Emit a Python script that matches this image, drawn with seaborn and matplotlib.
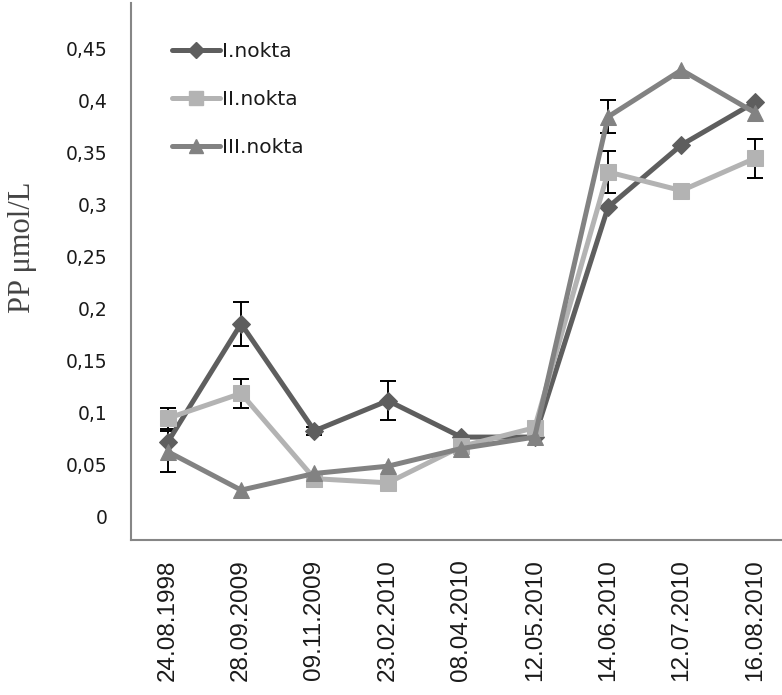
import numpy as np
import pandas as pd
import matplotlib
matplotlib.use("Agg")
import matplotlib.pyplot as plt
import seaborn as sns
from matplotlib.lines import Line2D
from matplotlib.ticker import FixedLocator, FuncFormatter

dates = ["24.08.1998", "28.09.2009", "09.11.2009", "23.02.2010", "08.04.2010",
         "12.05.2010", "14.06.2010", "12.07.2010", "16.08.2010"]
series_names = ["I.nokta", "II.nokta", "III.nokta"]
nokta1 = [0.071, 0.185, 0.082, 0.111, 0.076, 0.076, 0.297, 0.357, 0.398]
nokta2 = [0.094, 0.118, 0.036, 0.032, 0.067, 0.085, 0.331, 0.313, 0.344]
nokta3 = [0.062, 0.025, 0.041, 0.048, 0.065, 0.076, 0.384, 0.429, 0.388]
err1 = [0.0, 0.021, 0.004, 0.019, 0.0, 0.0, 0.0, 0.0, 0.0]
err2 = [0.010, 0.014, 0.0, 0.0, 0.0, 0.0, 0.020, 0.0, 0.019]
err3 = [0.020, 0.0, 0.0, 0.0, 0.0, 0.0, 0.016, 0.0, 0.0]
yticks = [0, 0.05, 0.1, 0.15, 0.2, 0.25, 0.3, 0.35, 0.4, 0.45]

colors = {"I.nokta": "#5e5e5e", "II.nokta": "#b3b3b3", "III.nokta": "#828282"}
markers = {"I.nokta": "D", "II.nokta": "s", "III.nokta": "^"}
msizes = {"I.nokta": 9, "II.nokta": 12, "III.nokta": 12}

vals = [nokta1, nokta2, nokta3]
errs = [err1, err2, err3]
rows = []
for name, v in zip(series_names, vals):
    for i, (d, y) in enumerate(zip(dates, v)):
        rows.append({"pos": i, "date": d, "value": y, "series": name})
df = pd.DataFrame(rows)

sns.set_style("white")
fig = plt.figure(figsize=(7.82, 6.95), dpi=100)
ax = fig.add_axes([0.1675, 0.223, 0.8325, 0.772])

for name, v, e in zip(series_names, vals, errs):
    x = np.arange(len(dates))
    mask = np.array(e) > 0
    ax.errorbar(x[mask], np.array(v)[mask], yerr=np.array(e)[mask], fmt="none",
                ecolor="black", elinewidth=1.4, capsize=6, capthick=1.4, zorder=1)
    sub = df[df["series"] == name]
    sns.lineplot(data=sub, x="pos", y="value", ax=ax, color=colors[name],
                 marker=markers[name], markersize=msizes[name], linewidth=3.6,
                 markeredgecolor=colors[name], zorder=2, legend=False)

ax.set_xlim(-0.5, 8.37)
ax.set_ylim(-0.023, 0.493)
ax.set_xticks(range(len(dates)))
ax.set_xticklabels(dates, rotation=90, fontsize=17.5, family="Liberation Sans",
                   color="#1a1a1a")
ax.yaxis.set_major_locator(FixedLocator(yticks))
ax.yaxis.set_major_formatter(FuncFormatter(lambda v, p: ("%g" % round(v, 2)).replace(".", ",")))
ax.tick_params(axis="y", labelsize=13.5, colors="#1a1a1a", length=0, pad=17)
ax.tick_params(axis="x", length=0, pad=14)
ax.set_xlabel("")
ax.set_ylabel("PP μmol/L", family="Liberation Serif", fontsize=22, color="#444444")
ax.yaxis.set_label_coords(-0.145, 0.545)

for s in ["top", "right"]:
    ax.spines[s].set_visible(False)
for s in ["left", "bottom"]:
    ax.spines[s].set_color("#868686")
    ax.spines[s].set_linewidth(1.5)

handles = [Line2D([0], [0], color=colors[n], marker=markers[n], markersize=msizes[n] * 0.85,
                  linewidth=3.6, markeredgecolor=colors[n]) for n in series_names]
ax.legend(handles, series_names, loc="upper left", bbox_to_anchor=(0.035, 0.962),
          frameon=False, fontsize=14.5, handlelength=2.4, handletextpad=0.1,
          labelspacing=1.45, labelcolor="#1a1a1a")

fig.savefig("out.png", dpi=100)
